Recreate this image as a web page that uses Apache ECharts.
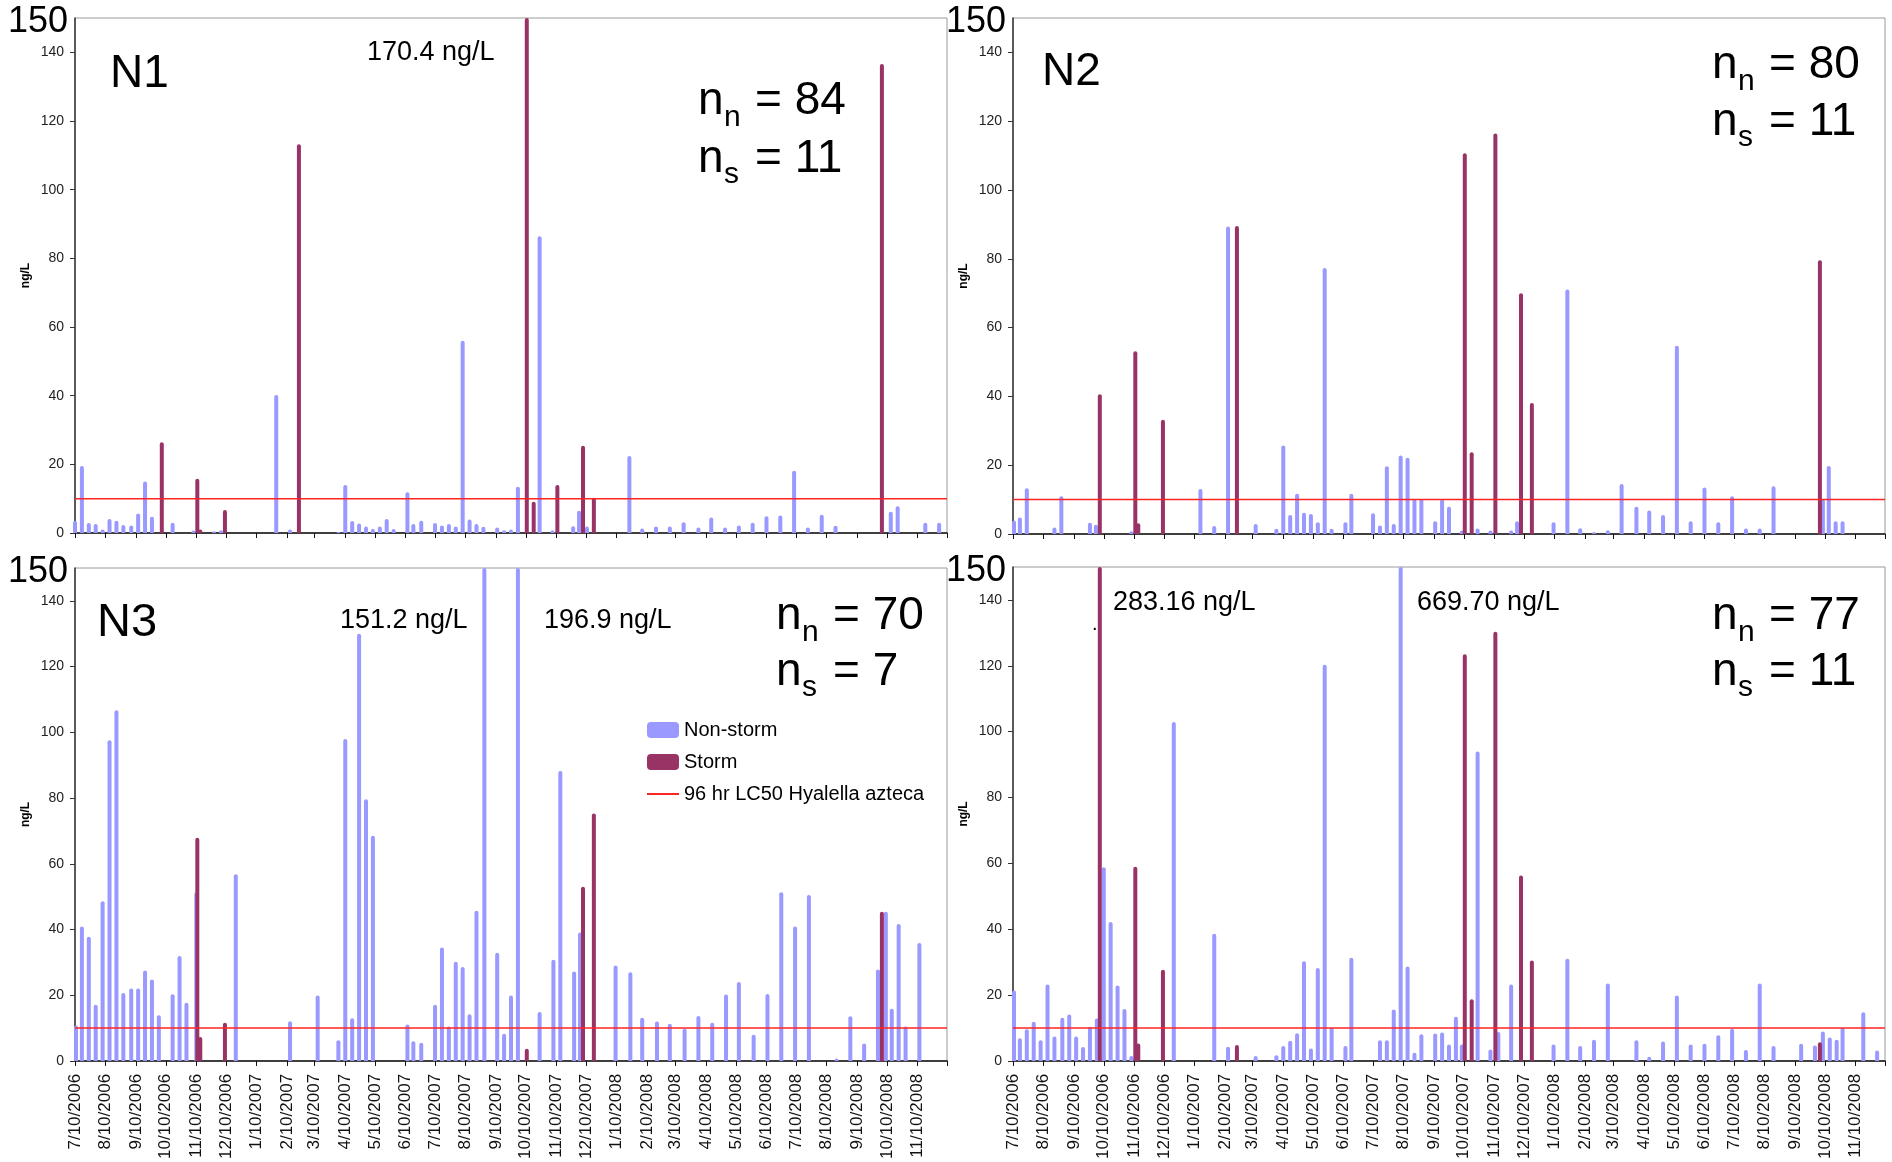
<!DOCTYPE html>
<html><head><meta charset="utf-8">
<script src="https://cdn.jsdelivr.net/npm/echarts@6/dist/echarts.min.js"></script>
<style>html,body{margin:0;padding:0;background:#fff}#c{width:1892px;height:1162px}</style>
</head><body><div id="c"></div>
<script>
// ---------- DATA (x = days after 7/10/2006, y = ng/L) ----------
const monthTickLabels = ['7/10/2006','8/10/2006','9/10/2006','10/10/2006','11/10/2006','12/10/2006',
 '1/10/2007','2/10/2007','3/10/2007','4/10/2007','5/10/2007','6/10/2007','7/10/2007','8/10/2007',
 '9/10/2007','10/10/2007','11/10/2007','12/10/2007','1/10/2008','2/10/2008','3/10/2008','4/10/2008',
 '5/10/2008','6/10/2008','7/10/2008','8/10/2008','9/10/2008','10/10/2008','11/10/2008'];
const axisEndDate = '12/10/2008';
const yTickValues = [0,20,40,60,80,100,120,140];
const yMax = 150;
const lc50 = 10;

const panelNames = ['N1','N2','N3',''];
const sampleCounts = [[84,11],[80,11],[70,7],[77,11]]; // [n_n, n_s]
const offScaleNotes = [
  [['170.4 ng/L']],
  [],
  [['151.2 ng/L'],['196.9 ng/L']],
  [['283.16 ng/L'],['669.70 ng/L']]
];

const n1NonStorm = [[0,3.6],[7,19.5],[14,2.9],[21,2.6],[28,1.0],[35,4.1],[42,3.6],[49,2.3],[57,2.2],[64,5.7],
 [71,15.0],[78,4.7],[99,3.0],[120,0.7],[141,0.5],[148,0.8],[204,40.2],[218,1.0],[267,0.3],[274,14.0],
 [281,3.5],[288,2.8],[295,1.9],[302,1.2],[309,1.9],[316,4.1],[323,1.2],[337,11.9],[343,2.6],[351,3.6],
 [365,2.9],[372,2.2],[379,2.6],[386,1.9],[393,56.0],[400,3.9],[407,2.6],[414,1.8],[428,1.6],[435,0.8],
 [442,1.0],[449,13.5],[471,86.4],[484,0.8],[505,2.0],[511,6.5],[519,1.9],[562,22.4],[575,1.3],[589,1.9],
 [603,1.9],[617,3.1],[632,1.6],[645,4.5],[659,1.6],[673,2.2],[687,3.0],[701,4.9],[715,5.1],[729,18.1],
 [743,1.6],[757,5.3],[771,2.1],[827,6.2],[834,7.8],[862,3.0],[876,3.0]];
const n1Storm = [[88,26.4],[124,15.8],[127,1.0],[152,6.7],[227,113.2],[458,170.4],[465,9.1],[489,14.0],
 [515,25.4],[526,10.3],[818,136.6]];

const n2NonStorm = [[1,3.9],[7,4.8],[14,13.3],[42,1.9],[49,11.0],[78,3.3],[84,2.7],[120,0.8],[190,13.1],[204,2.3],
 [218,89.4],[246,2.9],[267,1.5],[274,25.7],[281,5.5],[288,11.7],[295,6.2],[302,5.8],[309,3.4],[316,77.3],
 [323,1.5],[337,3.4],[343,11.7],[365,6.0],[372,2.5],[379,19.7],[386,2.9],[393,22.8],[400,22.2],[407,10.2],
 [414,10.2],[428,3.7],[435,10.0],[442,7.9],[455,1.0],[471,1.6],[484,1.0],[505,1.0],[511,3.7],[548,3.4],
 [562,71.1],[575,1.7],[589,0.6],[603,1.1],[617,14.5],[632,7.9],[645,6.8],[659,5.5],[673,54.7],[687,3.7],
 [701,13.5],[715,3.4],[729,11.0],[743,1.6],[757,1.6],[771,13.9],[821,10.2],[827,19.8],[834,3.7],[841,3.7]];
const n2Storm = [[88,40.6],[124,53.1],[127,3.1],[152,33.2],[227,89.5],[458,110.7],[465,23.8],[489,116.4],
 [515,70.0],[526,38.1],[818,79.6]];

const n3NonStorm = [[1,10.8],[7,40.9],[14,37.8],[21,17.1],[28,48.6],[35,97.6],[42,106.7],[49,20.7],[57,22.0],[64,22.0],
 [71,27.5],[78,24.8],[85,13.9],[99,20.3],[106,31.9],[113,17.7],[123,51.3],[163,56.8],[218,12.1],[246,19.9],
 [267,6.3],[274,98.0],[281,13.0],[288,130.0],[295,79.6],[302,68.5],[337,11.1],[343,6.0],[351,5.5],[365,17.1],
 [372,34.5],[379,10.5],[386,30.2],[393,28.6],[400,14.2],[407,45.7],[415,151.2],[428,32.9],[435,8.3],[442,19.9],
 [449,196.9],[471,14.9],[485,30.8],[492,88.2],[506,27.2],[512,39.1],[548,29.0],[563,27.0],[575,13.1],[590,12.0],
 [603,11.3],[618,9.8],[632,13.7],[646,11.6],[660,20.2],[673,24.0],[688,8.0],[702,20.4],[716,51.3],[730,40.9],
 [744,50.5],[772,0.7],[786,13.6],[800,5.3],[814,27.8],[822,45.4],[828,15.9],[835,41.7],[842,10.5],[856,35.9]];
const n3Storm = [[124,67.9],[127,7.3],[152,11.6],[458,3.7],[515,53.0],[526,75.3],[818,45.4]];

const n4NonStorm = [[1,21.4],[7,6.9],[14,9.6],[21,11.9],[28,6.3],[35,23.2],[42,7.4],[50,13.1],[57,14.1],[64,7.4],
 [71,4.2],[78,10.4],[85,12.9],[92,58.8],[99,42.2],[106,22.9],[113,15.8],[120,1.5],[163,102.9],[204,38.6],
 [218,4.3],[246,1.5],[267,1.7],[274,4.5],[281,6.1],[288,8.4],[295,30.3],[302,3.8],[309,28.2],[316,120.3],
 [323,10.1],[337,4.5],[343,31.3],[372,6.3],[379,6.3],[386,15.6],[393,669.70],[400,28.7],[407,2.5],[414,8.1],
 [428,8.3],[435,8.6],[442,5.0],[449,13.4],[455,5.0],[471,94.0],[484,3.5],[492,8.8],[505,23.2],[548,5.0],
 [562,31.0],[575,4.5],[589,6.4],[603,23.5],[632,6.3],[645,1.3],[659,5.9],[673,19.9],[687,5.0],[701,5.2],
 [715,7.8],[729,9.8],[743,3.3],[757,23.5],[771,4.5],[799,5.2],[813,4.7],[821,8.9],[828,7.1],[835,6.4],
 [841,10.1],[862,14.8],[876,3.2]];
const n4Storm = [[88,283.16],[124,59.0],[127,5.3],[152,27.7],[227,4.8],[458,123.5],[465,18.7],[489,130.3],
 [515,56.3],[526,30.5],[818,5.7]];

const nonStormSets = [n1NonStorm, n2NonStorm, n3NonStorm, n4NonStorm];
const stormSets = [n1Storm, n2Storm, n3Storm, n4Storm];

// ---------- AXIS HELPERS ----------
function dayOf(lbl){ const p = lbl.split('/'); return Math.round((Date.UTC(+p[2], +p[0]-1, +p[1]) - Date.UTC(2006,6,10))/864e5); }
const labelDays = monthTickLabels.map(dayOf);
const endDay = dayOf(axisEndDate);
const tickDays = labelDays.concat([endDay]);
const labelMap = {}; labelDays.forEach((d,i)=>labelMap[d]=monthTickLabels[i]);

const FONT = '"Liberation Sans", Arial, Helvetica, sans-serif';
const NON_COLOR = '#9999ff', STORM_COLOR = '#993366', LINE_COLOR = '#ff2424';

const grids = [
  {left:75,  top:18,  width:872, height:515},
  {left:1013,top:18,  width:872, height:516},
  {left:75,  top:568, width:872, height:494},
  {left:1013,top:567, width:872, height:496}
];

const xAxes = [], yAxes = [], series = [];
grids.forEach((g,i)=>{
  g.show = true; g.borderColor = '#9a9a9a'; g.borderWidth = 1; g.containLabel = false;
  xAxes.push({type:'value', gridIndex:i, min:0, max:endDay,
    axisLine:{show:true, onZero:false, lineStyle:{color:'#111', width:1.5}},
    axisTick:{show:true, customValues:tickDays, length:5, lineStyle:{color:'#111', width:1}},
    axisLabel:{show:i>=2, customValues:labelDays, rotate:90, margin:13, fontSize:17, color:'#111', fontFamily:FONT,
      formatter:v=>labelMap[Math.round(v)]||''},
    splitLine:{show:false}});
  yAxes.push({type:'value', gridIndex:i, min:0, max:yMax,
    name:'ng/L', nameLocation:'middle', nameGap:43, nameMoveOverlap:false,
    nameTextStyle:{fontSize:12, fontWeight:'bold', color:'#000', fontFamily:FONT},
    axisLine:{show:true, lineStyle:{color:'#333', width:1.5}},
    axisTick:{show:true, customValues:yTickValues, length:5, lineStyle:{color:'#333'}},
    axisLabel:{customValues:yTickValues.concat([yMax]), margin:7,
      formatter:v=> v===yMax ? '{b|'+v+'}' : '{n|'+v+'}',
      rich:{b:{fontSize:36, color:'#000', fontFamily:FONT, padding:[8,0,0,0]},
            n:{fontSize:14, color:'#222', fontFamily:FONT, padding:[0,4,0,0]}}},
    splitLine:{show:false}});
  series.push({type:'bar', name:'Non-storm', xAxisIndex:i, yAxisIndex:i, data:nonStormSets[i],
    barWidth:4, barGap:'-100%', clip:true, itemStyle:{color:NON_COLOR, borderRadius:[2,2,0,0]}, z:2});
  series.push({type:'bar', name:'Storm', xAxisIndex:i, yAxisIndex:i, data:stormSets[i],
    barWidth:4, barGap:'-100%', clip:true, itemStyle:{color:STORM_COLOR, borderRadius:[2,2,0,0]}, z:3});
  series.push({type:'line', name:'96 hr LC50 Hyalella azteca', xAxisIndex:i, yAxisIndex:i,
    data:[[0,lc50],[endDay,lc50]], symbol:'none', silent:true,
    itemStyle:{color:LINE_COLOR},
    lineStyle:{color:LINE_COLOR, width:1.5}, z:5});
});

// ---------- ANNOTATIONS ----------
function txt(x, base, s, size){
  return {type:'text', x:x, y:base - 0.32*size, silent:true, z:10,
    style:{text:s, fill:'#000', font:size+'px '+FONT, align:'left', verticalAlign:'middle',
           textAlign:'left', textVerticalAlign:'middle'}};
}
const graphics = [];
const nameLayout = [[110,89,46],[1042,87,46],[97,638,47],null];
panelNames.forEach((nm,i)=>{ if(nm && nameLayout[i]) graphics.push(txt(nameLayout[i][0], nameLayout[i][1], nm, nameLayout[i][2])); });
const noteLayout = [[[367,61]],[],[[340,629],[544,629]],[[1113,611],[1417,611]]];
offScaleNotes.forEach((arr,i)=>arr.forEach((n,j)=>graphics.push(txt(noteLayout[i][j][0], noteLayout[i][j][1], n[0], 27))));
graphics.push(txt(1092, 631, '.', 20));
const countLayout = [[698,116,174],[1712,80,137],[776,631,687],[1712,631,687]];
sampleCounts.forEach((c,i)=>{
  const [x,b1,b2] = countLayout[i];
  graphics.push(txt(x, b1, 'n', 46), txt(x+26, b1+11, 'n', 30), txt(x+57, b1, '= '+c[0], 46));
  graphics.push(txt(x, b2, 'n', 46), txt(x+26, b2+10, 's', 30), txt(x+57, b2, '= '+c[1], 46));
});

const chart = echarts.init(document.getElementById('c'), null, {renderer:'canvas'});
chart.setOption({
  animation:false,
  backgroundColor:'#fff',
  textStyle:{fontFamily:FONT},
  grid:grids, xAxis:xAxes, yAxis:yAxes, series:series,
  legend:{orient:'vertical', left:641, top:715, itemWidth:32, itemHeight:16, itemGap:12,
    selectedMode:false,
    textStyle:{fontSize:20, color:'#000', fontFamily:FONT},
    data:[{name:'Non-storm', icon:'roundRect'},{name:'Storm', icon:'roundRect'},
          {name:'96 hr LC50 Hyalella azteca', itemStyle:{opacity:0}}]},
  graphic:graphics
});
</script></body></html>
